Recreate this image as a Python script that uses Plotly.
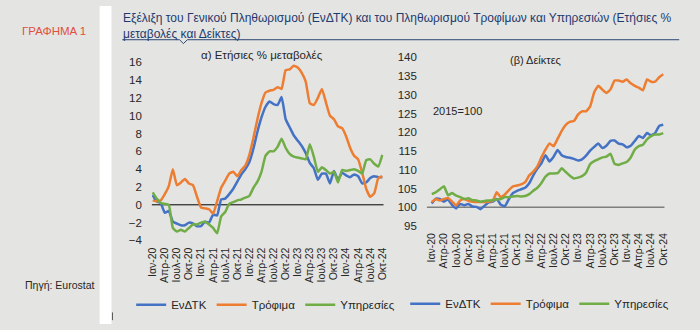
import plotly.graph_objects as go

# Monthly observations, Jan 2020 .. Oct 2024
months_gr = ["Ιαν", "Φεβ", "Μαρ", "Απρ", "Μαϊ", "Ιουν",
             "Ιουλ", "Αυγ", "Σεπ", "Οκτ", "Νοε", "Δεκ"]
years = [20, 21, 22, 23, 24]
n_months = 58

# (a) annual % change
hicp_yoy = [1.1, 0.4, 0.2, -0.9, -0.7, -1.9, -2.1, -2.3, -2.3, -2.0, -2.1, -2.4,
            -2.4, -1.9, -2.0, -1.1, -1.2, 0.6, 0.7, 1.2, 1.8, 2.6, 3.4, 4.0,
            4.8, 6.3, 8.2, 9.8, 11.0, 11.6, 11.3, 11.2, 12.1, 9.6, 8.7, 7.8,
            7.2, 6.6, 5.8, 4.7, 4.1, 2.8, 3.5, 3.5, 2.4, 3.8, 2.8, 3.6,
            3.3, 3.1, 3.4, 3.2, 2.4, 2.5, 3.0, 3.2, 3.1, 3.1]
food_yoy = [0.5, 0.4, 0.5, 1.2, 2.1, 4.0, 2.2, 2.5, 2.9, 2.4, 2.2, 0.9,
            -0.3, -0.4, -0.5, -1.0, 0.4, 1.9, 2.7, 3.5, 3.7, 3.2, 3.9, 4.4,
            5.6, 7.5, 9.6, 11.4, 12.6, 12.8, 12.9, 13.2, 13.0, 15.1, 15.2, 15.6,
            15.4, 14.8, 13.8, 11.4, 11.2, 12.0, 13.0, 11.5, 10.0, 9.6, 8.8, 8.6,
            7.7, 6.4, 5.5, 5.1, 3.6, 1.8, 0.9, 1.3, 3.0, 3.2]
services_yoy = [1.4, 0.7, 0.2, 0.1, 0.0, -2.6, -3.0, -2.8, -3.0, -2.6, -2.2, -2.2,
                -2.0, -1.9, -2.2, -2.6, -3.2, -1.3, -0.8, 0.1, 0.3, 0.5, 0.6, 0.8,
                1.0, 1.9, 2.6, 3.7, 5.5, 6.0, 6.0, 6.5, 7.4, 6.4, 5.7, 5.4,
                5.3, 5.2, 5.1, 6.8, 5.4, 3.7, 4.2, 3.9, 3.5, 3.7, 2.5, 3.9,
                3.8, 3.9, 4.0, 3.8, 3.5, 5.0, 5.1, 4.6, 4.3, 5.6]

# (b) indices, 2015=100
hicp_idx = [101.0, 102.3, 102.2, 101.5, 102.1, 100.6, 99.7, 100.9, 100.5, 100.9, 100.2, 100.1,
            99.5, 100.4, 101.3, 101.5, 102.2, 100.7, 100.3, 102.2, 103.8, 104.4, 104.8, 105.2,
            106.4, 108.5, 110.3, 111.7, 113.9, 112.2, 113.5, 115.3, 113.9, 113.4, 113.2, 112.9,
            112.5, 112.8, 113.8, 115.1, 116.1, 117.0, 115.8, 116.4, 117.7, 117.8, 117.0, 116.8,
            116.0, 116.4, 117.7, 119.0, 118.5, 119.8, 119.2, 119.8, 121.7, 122.0]
food_idx = [101.4, 102.2, 101.8, 102.2, 102.5, 101.5, 100.5, 101.8, 102.2, 101.7, 101.5, 101.4,
            101.4, 101.4, 101.5, 101.7, 104.0, 102.7, 103.4, 104.6, 105.6, 105.8, 106.1, 106.7,
            108.5, 109.5, 110.9, 113.3, 115.4, 117.0, 116.3, 118.3, 120.4, 122.0, 122.8, 123.0,
            124.7, 125.6, 125.6, 126.9, 130.7, 132.4, 131.4, 130.5, 131.4, 133.8, 133.8, 133.5,
            134.1, 133.1, 132.4, 131.9, 131.2, 134.1, 133.5, 133.5, 134.7, 135.5]
services_idx = [103.5, 104.0, 104.8, 105.6, 103.2, 103.8, 103.1, 102.7, 102.2, 102.4, 101.9, 101.8,
                101.5, 101.7, 101.8, 101.9, 102.1, 102.2, 102.7, 102.7, 102.9, 103.0, 102.9, 103.0,
                103.5, 104.4, 105.2, 106.5, 108.2, 109.0, 109.0, 109.1, 110.4, 109.4, 108.4, 107.7,
                107.9, 108.3, 109.2, 111.5, 112.3, 112.8, 113.3, 113.5, 114.3, 111.6, 111.3, 111.7,
                112.1, 113.3, 115.4, 116.3, 116.7, 118.1, 119.0, 119.4, 119.4, 119.8]

series_names = ["ΕνΔΤΚ", "Τρόφιμα", "Υπηρεσίες"]
series_colors = ["#4472c4", "#ed7d31", "#70ad47"]

x_idx = list(range(n_months))
tick_vals = list(range(0, n_months, 3))
tick_text = [f"{months_gr[i % 12]}-{years[i // 12]}" for i in tick_vals]

W, H = 700, 330
FONT = "Liberation Sans, Arial, sans-serif"
BG = "#e4e4e2"


def px_x(p):
    return p / W


def px_y(p):
    return 1 - p / H


fig = go.Figure()

for name, color, vals in zip(series_names, series_colors,
                             [hicp_yoy, food_yoy, services_yoy]):
    fig.add_trace(go.Scatter(x=x_idx, y=vals, name=name, mode="lines",
                             line=dict(color=color, width=2.5, shape="spline", smoothing=0.4),
                             xaxis="x", yaxis="y", legend="legend"))

for name, color, vals in zip(series_names, series_colors,
                             [hicp_idx, food_idx, services_idx]):
    fig.add_trace(go.Scatter(x=x_idx, y=vals, name=name, mode="lines",
                             line=dict(color=color, width=2.5, shape="spline", smoothing=0.4),
                             xaxis="x2", yaxis="y2", legend="legend2"))

xaxis_common = dict(tickmode="array", tickvals=tick_vals, ticktext=tick_text,
                    tickangle=-90, showgrid=False, zeroline=False, showline=False,
                    ticks="", tickfont=dict(size=10.5, color="#262626", family=FONT),
                    ticklabelstandoff=4)
yaxis_common = dict(showgrid=False, zeroline=False, showline=False, ticks="",
                    tickfont=dict(size=11.5, color="#262626", family=FONT))

fig.update_layout(
    width=W, height=H,
    margin=dict(l=0, r=0, t=0, b=0),
    paper_bgcolor=BG, plot_bgcolor=BG,
    font=dict(family=FONT, color="#262626"),
    xaxis=dict(domain=[px_x(148), px_x(383)], range=[-0.2, 57.3], **xaxis_common),
    yaxis=dict(domain=[px_y(243.3), px_y(58.3)], range=[-4, 16], dtick=2,
               ticklabelstandoff=9, **yaxis_common),
    xaxis2=dict(domain=[px_x(427), px_x(668)], range=[-1.2, 57.3], anchor="y2",
                **xaxis_common),
    yaxis2=dict(domain=[px_y(228.3), px_y(53.3)], range=[95, 140], dtick=5,
                anchor="x2", ticklabelstandoff=9, **yaxis_common),
    legend=dict(orientation="h", x=px_x(127), xanchor="left", y=px_y(310),
                yanchor="middle", bgcolor="rgba(0,0,0,0)", itemwidth=30,
                font=dict(size=11.5, color="#262626", family=FONT)),
    legend2=dict(orientation="h", x=px_x(405), xanchor="left", y=px_y(309),
                 yanchor="middle", bgcolor="rgba(0,0,0,0)", itemwidth=30,
                 font=dict(size=11.5, color="#262626", family=FONT)),
    shapes=[
        # white separator strip
        dict(type="rect", xref="paper", yref="paper", x0=px_x(95), x1=px_x(107),
             y0=0, y1=1, fillcolor="#ffffff", line=dict(width=0), layer="below"),
        dict(type="line", xref="paper", yref="paper", x0=px_x(108), x1=px_x(108),
             y0=px_y(326), y1=px_y(318), line=dict(color="#555555", width=1)),
        # title underline with pointer
        dict(type="path", xref="paper", yref="paper",
             path=(f"M {px_x(118)},{px_y(35)} L {px_x(176)},{px_y(35)} "
                   f"L {px_x(180)},{px_y(39)} L {px_x(184)},{px_y(35)} "
                   f"L {px_x(683)},{px_y(35)}"),
             line=dict(color="#2c4770", width=1)),
        # reference lines
        dict(type="line", xref="x domain", yref="y", x0=0, x1=1, y0=0, y1=0,
             line=dict(color="#000000", width=1), layer="below"),
        dict(type="line", xref="x2 domain", yref="y2", x0=0, x1=1, y0=100, y1=100,
             line=dict(color="#7f7f7f", width=1.6), layer="below"),
    ],
    annotations=[
        dict(text="Εξέλιξη του Γενικού Πληθωρισμού (ΕνΔΤΚ) και του Πληθωρισμού Τροφίμων "
                  "και Υπηρεσιών (Ετήσιες %<br>μεταβολές και Δείκτες)",
             xref="paper", yref="paper", x=px_x(117), y=px_y(3), xanchor="left",
             yanchor="top", align="left", showarrow=False,
             font=dict(size=12, color="#1f3a6e", family=FONT)),
        dict(text="ΓΡΑΦΗΜΑ 1", xref="paper", yref="paper", x=px_x(49), y=px_y(26),
             xanchor="center", yanchor="middle", showarrow=False,
             font=dict(size=11.5, color="#e0503e", family=FONT)),
        dict(text="Πηγή: Eurostat", xref="paper", yref="paper", x=px_x(55), y=px_y(290),
             xanchor="center", yanchor="middle", showarrow=False,
             font=dict(size=10.5, color="#262626", family=FONT)),
        dict(text="α) Ετήσιες % μεταβολές", xref="paper", yref="paper", x=px_x(260),
             y=px_y(51), xanchor="center", yanchor="middle", showarrow=False,
             font=dict(size=11.5, color="#262626", family=FONT)),
        dict(text="(β) Δείκτες", xref="paper", yref="paper", x=px_x(537),
             y=px_y(56), xanchor="center", yanchor="middle", showarrow=False,
             font=dict(size=11, color="#262626", family=FONT)),
        dict(text="2015=100", xref="paper", yref="paper", x=px_x(458),
             y=px_y(109), xanchor="center", yanchor="middle", showarrow=False,
             font=dict(size=11, color="#262626", family=FONT)),
    ],
)

fig.write_html("out.html")
